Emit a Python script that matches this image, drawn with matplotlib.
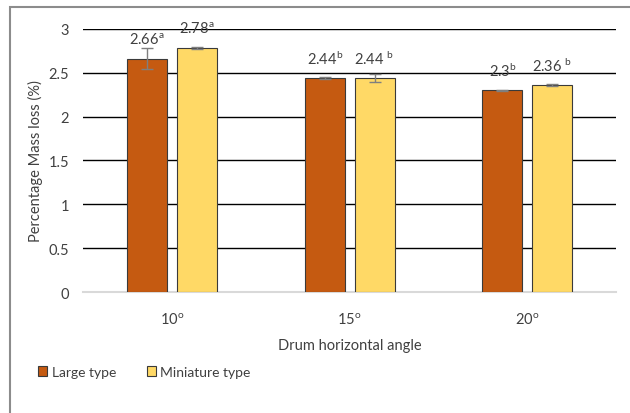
import matplotlib
matplotlib.use("Agg")
import matplotlib.pyplot as plt
import numpy as np
from matplotlib.patches import Rectangle

plt.rcParams['font.family'] = ['Lato', 'DejaVu Sans']
plt.rcParams['mathtext.default'] = 'regular'

angles = ['10$^{o}$', '15$^{o}$', '20$^{o}$']
large = [2.66, 2.44, 2.30]
mini = [2.78, 2.44, 2.36]
large_err = [0.12, 0.01, 0.005]
mini_err = [0.01, 0.05, 0.015]
large_lbl = ['2.66$^{a}$', '2.44$^{b}$', '2.3$^{b}$']
mini_lbl = ['2.78$^{a}$', '2.44 $^{b}$', '2.36 $^{b}$']

fig = plt.figure(figsize=(6.3, 4.14), dpi=100)
ax = fig.add_axes([0.132, 0.292, 0.846, 0.636])

x = np.arange(len(angles))
w = 0.225
off = 0.14
b1 = ax.bar(x - off, large, w, color='#C55A11', edgecolor='#3a3a3a', linewidth=0.8,
            yerr=large_err, error_kw=dict(ecolor='#7f7f7f', capsize=4, elinewidth=1), label='Large type', zorder=3)
b2 = ax.bar(x + off, mini, w, color='#FFD966', edgecolor='#3a3a3a', linewidth=0.8,
            yerr=mini_err, error_kw=dict(ecolor='#7f7f7f', capsize=4, elinewidth=1), label='Miniature type', zorder=3)

for i in range(len(angles)):
    ax.annotate(large_lbl[i], (x[i] - off, large[i]), xytext=(0, 14), textcoords='offset points',
                ha='center', va='center', fontsize=10.5, color='#404040')
    ax.annotate(mini_lbl[i], (x[i] + off, mini[i]), xytext=(0, 14), textcoords='offset points',
                ha='center', va='center', fontsize=10.5, color='#404040')

ax.set_ylim(0, 3)
ax.set_xlim(-0.5, 2.5)
ax.set_yticks([0, 0.5, 1, 1.5, 2, 2.5, 3])
ax.set_yticklabels(['0', '0.5', '1', '1.5', '2', '2.5', '3'])
ax.set_xticks(x)
ax.set_xticklabels(angles)
ax.yaxis.grid(True, color='black', linewidth=1)
ax.set_axisbelow(True)
for s in ['top', 'right', 'left']:
    ax.spines[s].set_visible(False)
ax.spines['bottom'].set_color('#d9d9d9')
ax.spines['bottom'].set_linewidth(1.5)
ax.tick_params(length=0, labelsize=10.5, labelcolor='#404040')
ax.tick_params(axis='x', pad=14)
ax.tick_params(axis='y', pad=10)
ax.set_ylabel('Percentage Mass loss (%)', fontsize=10.5, color='#404040')
ax.set_xlabel('Drum horizontal angle', fontsize=10.5, color='#404040', labelpad=8)

fig.legend(handles=[b1, b2], loc='center left', bbox_to_anchor=(0.04, 0.1), ncol=2,
           frameon=False, fontsize=10, handlelength=0.7, handleheight=0.7,
           handletextpad=0.3, columnspacing=2.2, labelcolor='#404040')

fig.patches.append(Rectangle((10 / 630, -0.1), 1.2, 1.1 - 8 / 414, transform=fig.transFigure,
                             fill=False, edgecolor='#8c8c8c', linewidth=1.5))

fig.savefig('out.png', dpi=100)
